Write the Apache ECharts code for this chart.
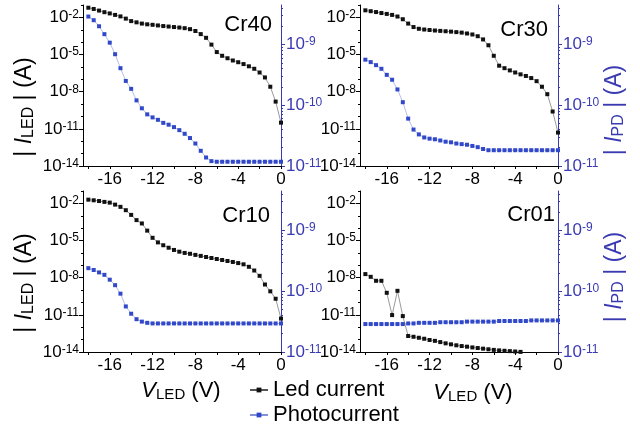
<!DOCTYPE html>
<html>
<head>
<meta charset="utf-8">
<title>LED current and photocurrent vs V_LED</title>
<script src="https://cdn.jsdelivr.net/npm/echarts@6/dist/echarts.min.js"></script>
<style>
  html, body { margin: 0; padding: 0; background: #fff; }
  #chart { width: 640px; height: 425px; }
</style>
</head>
<body>
<div id="chart"></div>
<script>
  var FONT = 'Liberation Sans, Arial, Helvetica, sans-serif';
  var BLUE_AXIS = '#3a3ab2';
  var BLUE_DOT = '#3149c9';

  // LED bias, 0.5 V steps
  var voltage = [-18, -17.5, -17, -16.5, -16, -15.5, -15, -14.5, -14, -13.5, -13, -12.5, -12,
    -11.5, -11, -10.5, -10, -9.5, -9, -8.5, -8, -7.5, -7, -6.5, -6, -5.5, -5, -4.5, -4,
    -3.5, -3, -2.5, -2, -1.5, -1, -0.5, 0];

  var xTicks = [-18, -16, -14, -12, -10, -8, -6, -4, -2, 0];
  var xLabels = [-16, -12, -8, -4, 0];

  // both y scales are drawn in decades (log10 of |I| in A)
  var ledTicks = [-14, -11, -8, -5, -2];
  var ledMinor = [-13, -12, -10, -9, -7, -6, -4, -3, -1];
  var pdTicks = [-11, -10, -9];

  var panelNames = ['Cr40', 'Cr30', 'Cr10', 'Cr01'];

  // log10 |I_LED| (A)
  var cr40Led = [-1.22, -1.32, -1.45, -1.58, -1.68, -1.8, -1.92, -2.1, -2.3, -2.4, -2.5, -2.56, -2.6,
    -2.65, -2.7, -2.74, -2.78, -2.82, -2.87, -2.95, -3.1, -3.35, -3.65, -4.2, -4.8, -5.1, -5.3,
    -5.48, -5.62, -5.77, -5.95, -6.15, -6.45, -6.85, -7.6, -8.8, -10.5];
  var cr30Led = [-1.43, -1.5, -1.57, -1.65, -1.72, -1.8, -1.93, -2.15, -2.5, -2.78, -2.92, -2.98, -3.02,
    -3.06, -3.09, -3.12, -3.15, -3.19, -3.23, -3.3, -3.38, -3.52, -3.78, -4.25, -5.1, -5.9, -6.1,
    -6.28, -6.45, -6.6, -6.73, -6.9, -7.15, -7.6, -8.2, -9.6, -11.3];
  var cr10Led = [-1.7, -1.75, -1.81, -1.88, -1.94, -2.1, -2.28, -2.55, -2.93, -3.35, -3.62, -4.2, -4.78,
    -5.15, -5.38, -5.58, -5.76, -5.9, -6.0, -6.07, -6.16, -6.24, -6.33, -6.41, -6.49, -6.57, -6.65,
    -6.73, -6.82, -6.92, -7.12, -7.42, -7.85, -8.55, -9.1, -9.7, -11.3];
  var cr01Led = [-7.71, -7.93, -8.25, -8.25, -9.22, -11.02, -9.06, -11.1, -12.71, -12.77, -12.85, -12.93, -13.03,
    -13.1, -13.2, -13.3, -13.38, -13.46, -13.52, -13.57, -13.63, -13.68, -13.73, -13.78, -13.83, -13.87, -13.9,
    -13.93, -13.96, -13.99, null, null, null, null, null, null, null];

  // log10 |I_PD| (A)
  var cr40Pd = [-8.54, -8.6, -8.7, -8.83, -8.97, -9.16, -9.39, -9.6, -9.73, -9.92, -10.05, -10.15, -10.2,
    -10.24, -10.29, -10.32, -10.36, -10.41, -10.47, -10.54, -10.63, -10.75, -10.86, -10.92, -10.93, -10.93, -10.93,
    -10.93, -10.93, -10.93, -10.93, -10.93, -10.93, -10.93, -10.93, -10.93, -10.93];
  var cr30Pd = [-9.25, -9.29, -9.34, -9.4, -9.5, -9.58, -9.74, -9.95, -10.22, -10.4, -10.48, -10.53, -10.55,
    -10.56, -10.58, -10.6, -10.61, -10.63, -10.64, -10.65, -10.67, -10.69, -10.72, -10.74, -10.74, -10.74, -10.74,
    -10.74, -10.74, -10.74, -10.74, -10.74, -10.74, -10.74, -10.74, -10.74, -10.74];
  var cr10Pd = [-9.62, -9.65, -9.69, -9.73, -9.81, -9.9, -10.04, -10.25, -10.37, -10.46, -10.5, -10.52, -10.53,
    -10.53, -10.53, -10.53, -10.53, -10.53, -10.53, -10.53, -10.53, -10.53, -10.53, -10.53, -10.53, -10.53, -10.53,
    -10.53, -10.53, -10.53, -10.53, -10.53, -10.53, -10.53, -10.53, -10.53, -10.53];
  var cr01Pd = [-10.54, -10.54, -10.54, -10.54, -10.54, -10.54, -10.54, -10.54, -10.53, -10.53, -10.52, -10.52, -10.52,
    -10.52, -10.51, -10.51, -10.51, -10.51, -10.51, -10.5, -10.5, -10.5, -10.5, -10.5, -10.5, -10.49, -10.49,
    -10.49, -10.49, -10.49, -10.49, -10.48, -10.48, -10.48, -10.48, -10.48, -10.48];

  var ledSets = [cr40Led, cr30Led, cr10Led, cr01Led];
  var pdSets = [cr40Pd, cr30Pd, cr10Pd, cr01Pd];

  // log-spaced minor ticks (2..9) on the photocurrent axis
  var PD_MIN = -11, PD_MAX = -8.35;
  var pdMinor = [];
  pdTicks.forEach(function (n) {
    for (var k = 2; k <= 9; k++) {
      var t = n + Math.log10(k);
      if (t < PD_MAX) pdMinor.push(t);
    }
  });

  var grids = [
    { left: 83, top: 5, width: 198, height: 161 },
    { left: 360, top: 5, width: 198, height: 161 },
    { left: 83, top: 191, width: 198, height: 161 },
    { left: 360, top: 191, width: 198, height: 161 }
  ];

  function pairs(arr) {
    return voltage.map(function (v, i) { return [v, arr[i]]; });
  }

  function powLabel(color) {
    return {
      fontFamily: FONT,
      formatter: function (v) { return '{b|10}{s|' + v + '}'; },
      rich: {
        b: { fontSize: 17, color: color, fontFamily: FONT },
        s: { fontSize: 12, color: color, fontFamily: FONT, verticalAlign: 'top' }
      }
    };
  }

  var xAxes = [], yAxes = [], series = [];
  grids.forEach(function (g, i) {
    xAxes.push({
      gridIndex: i, type: 'value', min: -18.5, max: 0,
      axisLine: { onZero: false, lineStyle: { color: '#000', width: 1 } },
      axisTick: { customValues: xTicks, length: 3, lineStyle: { color: '#000' } },
      axisLabel: { customValues: xLabels, fontSize: 17, color: '#000', margin: 5, fontFamily: FONT },
      splitLine: { show: false }
    });

    var ledLabel = powLabel('#000');
    ledLabel.customValues = ledTicks;
    ledLabel.margin = 4;
    yAxes.push({
      gridIndex: i, type: 'value', position: 'left', min: -14, max: -1,
      axisLine: { show: true, onZero: false, lineStyle: { color: '#000', width: 1 } },
      axisTick: { show: true, customValues: ledTicks, length: 4, lineStyle: { color: '#000' } },
      axisLabel: ledLabel,
      splitLine: { show: false }
    });
    yAxes.push({
      gridIndex: i, type: 'value', position: 'left', min: -14, max: -1,
      axisLine: { show: false, onZero: false },
      axisTick: { show: true, customValues: ledMinor, length: 2, lineStyle: { color: '#000' } },
      axisLabel: { show: false },
      splitLine: { show: false }
    });

    var pdLabel = powLabel(BLUE_AXIS);
    pdLabel.customValues = pdTicks;
    pdLabel.margin = 5;
    yAxes.push({
      gridIndex: i, type: 'value', position: 'right', min: PD_MIN, max: PD_MAX,
      axisLine: { show: true, onZero: false, lineStyle: { color: BLUE_AXIS, width: 1 } },
      axisTick: { show: true, customValues: pdTicks, length: 4, lineStyle: { color: BLUE_AXIS } },
      axisLabel: pdLabel,
      splitLine: { show: false }
    });
    yAxes.push({
      gridIndex: i, type: 'value', position: 'right', min: PD_MIN, max: PD_MAX,
      axisLine: { show: false, onZero: false },
      axisTick: { show: true, customValues: pdMinor, length: 2, lineStyle: { color: BLUE_AXIS } },
      axisLabel: { show: false },
      splitLine: { show: false }
    });

    series.push({
      name: 'Led current', type: 'line', xAxisIndex: i, yAxisIndex: i * 4,
      data: pairs(ledSets[i]),
      symbol: 'rect', symbolSize: 4,
      itemStyle: { color: '#111' },
      lineStyle: { color: '#555', width: 0.6 },
      z: 3
    });
    series.push({
      name: 'Photocurrent', type: 'line', xAxisIndex: i, yAxisIndex: i * 4 + 2,
      data: pairs(pdSets[i]),
      symbol: 'rect', symbolSize: 4,
      itemStyle: { color: BLUE_DOT },
      lineStyle: { color: '#8391dc', width: 0.6 },
      z: 2
    });
  });

  function txt(x, y, text, opts) {
    opts = opts || {};
    var color = opts.color || '#000';
    var size = opts.size || 22;
    return {
      type: 'text', x: x, y: y, rotation: opts.rotation || 0,
      style: {
        text: text, fontSize: size, fontFamily: FONT, fill: color,
        align: opts.align || 'center', verticalAlign: 'middle',
        textAlign: opts.align || 'center', textVerticalAlign: 'middle',
        rich: {
          i: { fontStyle: 'italic', fontSize: size, fill: color, color: color, fontFamily: FONT },
          s: { fontSize: Math.round(size * 0.68), fill: color, color: color, fontFamily: FONT, verticalAlign: 'bottom' }
        }
      }
    };
  }

  var graphics = [
    txt(272, 25, panelNames[0], { align: 'right' }),
    txt(548, 30, panelNames[1], { align: 'right' }),
    txt(270, 216, panelNames[2], { align: 'right' }),
    txt(555, 215, panelNames[3], { align: 'right' }),
    txt(181, 391, '{i|V}{s|LED} (V)'),
    txt(473, 393, '{i|V}{s|LED} (V)'),
    txt(25, 107, '| {i|I}{s|LED} | (A)', { rotation: Math.PI / 2, size: 23 }),
    txt(25, 283, '| {i|I}{s|LED} | (A)', { rotation: Math.PI / 2, size: 23 }),
    txt(615, 110, '| {i|I}{s|PD} | (A)', { rotation: Math.PI / 2, size: 23, color: BLUE_AXIS }),
    txt(615, 277, '| {i|I}{s|PD} | (A)', { rotation: Math.PI / 2, size: 23, color: BLUE_AXIS })
  ];

  var chart = echarts.init(document.getElementById('chart'));
  chart.setOption({
    animation: false,
    backgroundColor: '#fff',
    textStyle: { fontFamily: FONT },
    grid: grids.map(function (g) {
      return { left: g.left, top: g.top, width: g.width, height: g.height, containLabel: false, outerBoundsMode: 'none' };
    }),
    xAxis: xAxes,
    yAxis: yAxes,
    legend: {
      data: ['Led current', 'Photocurrent'],
      orient: 'vertical', left: 249, top: 379, height: 80,
      padding: 0,
      itemWidth: 18, itemHeight: 6, itemGap: 3,
      selectedMode: false,
      textStyle: { fontSize: 22, lineHeight: 22, color: '#000', fontFamily: FONT }
    },
    graphic: graphics,
    series: series
  });
</script>
</body>
</html>
